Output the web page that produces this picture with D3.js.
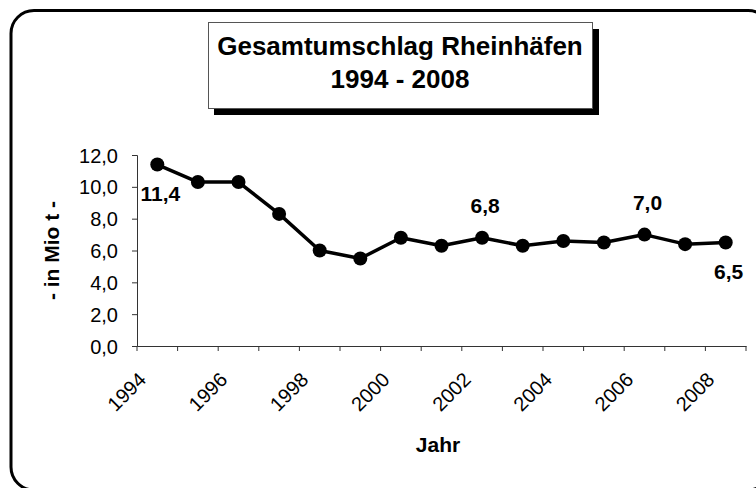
<!DOCTYPE html>
<html>
<head>
<meta charset="utf-8">
<script src="https://cdn.jsdelivr.net/npm/d3@7"></script>
<style>
  body { margin: 0; background: #fff; }
  text { font-family: "Liberation Sans", Arial, sans-serif; fill: #000; }
</style>
</head>
<body>
<svg id="chart" width="756" height="488"></svg>
<script>
// data
var years = ["1994","1995","1996","1997","1998","1999","2000","2001","2002","2003","2004","2005","2006","2007","2008"];
var values = [11.4, 10.3, 10.3, 8.3, 6.0, 5.5, 6.8, 6.3, 6.8, 6.3, 6.6, 6.5, 7.0, 6.4, 6.5];
var yTicks = [0, 2, 4, 6, 8, 10, 12];
var xTickLabels = ["1994","1996","1998","2000","2002","2004","2006","2008"];
var labeled = [{ year: "1994", pos: "below" }, { year: "2002", pos: "above" },
               { year: "2006", pos: "above" }, { year: "2008", pos: "below" }];
var titleLines = ["Gesamtumschlag Rheinhäfen", "1994 - 2008"];

var svg = d3.select("#chart");

// outer rounded frame
svg.append("rect")
    .attr("x", 11).attr("y", 10.5)
    .attr("width", 760).attr("height", 479.5)
    .attr("rx", 23).attr("ry", 23)
    .attr("fill", "#fff")
    .attr("stroke", "#000")
    .attr("stroke-width", 3);

// title box with shadow
svg.append("rect")
    .attr("x", 214).attr("y", 29)
    .attr("width", 385).attr("height", 86)
    .attr("fill", "#000");
svg.append("rect")
    .attr("x", 208.5).attr("y", 22.5)
    .attr("width", 384).attr("height", 86)
    .attr("fill", "#fff")
    .attr("stroke", "#555")
    .attr("stroke-width", 1);
svg.selectAll(".title")
    .data(titleLines)
    .enter().append("text")
    .attr("class", "title")
    .attr("x", 400)
    .attr("y", function (d, i) { return 55 + i * 33; })
    .attr("text-anchor", "middle")
    .style("font-size", "26px")
    .style("font-weight", "bold")
    .text(function (d) { return d; });

// scales
var plotLeft = 137, plotRight = 746, plotTop = 155, plotBottom = 346;
var x = d3.scaleBand().domain(years).range([plotLeft, plotRight]);
var y = d3.scaleLinear().domain([0, 12]).range([plotBottom, plotTop]);

// y axis
var yAxis = svg.append("g")
    .attr("transform", "translate(" + plotLeft + ",0)")
    .call(d3.axisLeft(y)
        .tickValues(yTicks)
        .tickSize(5)
        .tickPadding(14)
        .tickFormat(function (d) { return d3.format(".1f")(d).replace(".", ","); }));
yAxis.selectAll("text")
    .style("font-size", "20px")
    .attr("dy", "0.35em");

// x axis
var xAxis = svg.append("g")
    .attr("transform", "translate(0," + plotBottom + ")")
    .call(d3.axisBottom(x).tickSize(0).tickFormat(""));
xAxis.selectAll(".tick").remove();
// ticks between categories
var edges = years.map(function (d) { return x(d); }).concat([x.range()[1]]);
xAxis.selectAll(".edge")
    .data(edges)
    .enter().append("line")
    .attr("class", "edge")
    .attr("x1", function (d) { return d; })
    .attr("x2", function (d) { return d; })
    .attr("y1", 0).attr("y2", 5)
    .attr("stroke", "#333");
svg.selectAll(".domain").attr("stroke", "#333");
yAxis.selectAll(".tick line").attr("stroke", "#333");

// rotated year labels
svg.selectAll(".xlab")
    .data(xTickLabels)
    .enter().append("text")
    .attr("class", "xlab")
    .attr("text-anchor", "end")
    .attr("transform", function (d) {
        return "translate(" + (x(d) + x.bandwidth() / 2 - 10) + "," + (plotBottom + 35) + ") rotate(-45)";
    })
    .style("font-size", "20px")
    .text(function (d) { return d; });

// axis titles
svg.append("text")
    .attr("x", 438).attr("y", 452)
    .attr("text-anchor", "middle")
    .style("font-size", "21px")
    .style("font-weight", "bold")
    .text("Jahr");
svg.append("text")
    .attr("transform", "translate(59," + ((plotTop + plotBottom) / 2) + ") rotate(-90)")
    .attr("text-anchor", "middle")
    .style("font-size", "21px")
    .style("font-weight", "bold")
    .text("- in Mio t -");

// line
var cx = function (d, i) { return x(years[i]) + x.bandwidth() / 2; };
var line = d3.line()
    .x(cx)
    .y(function (d) { return y(d); });
svg.append("path")
    .datum(values)
    .attr("d", line)
    .attr("fill", "none")
    .attr("stroke", "#000")
    .attr("stroke-width", 3.5)
    .attr("stroke-linejoin", "round");

svg.selectAll(".dot")
    .data(values)
    .enter().append("circle")
    .attr("class", "dot")
    .attr("cx", cx)
    .attr("cy", function (d) { return y(d); })
    .attr("r", 7)
    .attr("fill", "#000");

// data labels
svg.selectAll(".vlab")
    .data(labeled)
    .enter().append("text")
    .attr("class", "vlab")
    .attr("text-anchor", "middle")
    .attr("x", function (d) { return x(d.year) + x.bandwidth() / 2 + 3; })
    .attr("y", function (d) {
        var v = values[years.indexOf(d.year)];
        return y(v) + (d.pos === "below" ? 36 : -25);
    })
    .style("font-size", "21px")
    .style("font-weight", "bold")
    .text(function (d) { return d3.format(".1f")(values[years.indexOf(d.year)]).replace(".", ","); });
</script>
</body>
</html>
